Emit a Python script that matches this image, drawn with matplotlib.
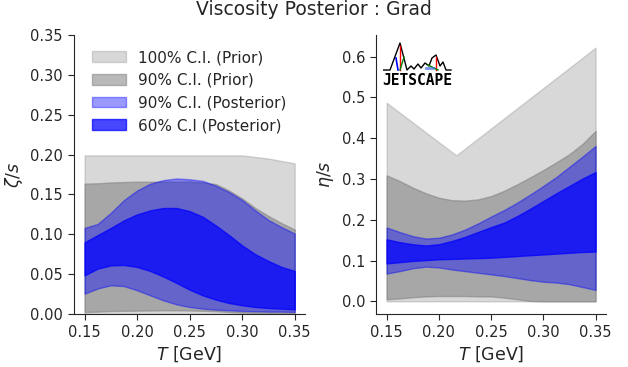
import numpy as np
import matplotlib
matplotlib.use("Agg")
import matplotlib.pyplot as plt

# temperature grid (GeV)
T = [0.15, 0.1625, 0.175, 0.1875, 0.2, 0.2125, 0.225, 0.2375, 0.25,
     0.2625, 0.275, 0.2875, 0.3, 0.3125, 0.325, 0.3375, 0.35]

# zeta/s bands
zeta_prior100_hi = [0.199, 0.199, 0.199, 0.199, 0.199, 0.199, 0.199, 0.199, 0.199,
                    0.199, 0.199, 0.199, 0.199, 0.197, 0.195, 0.192, 0.189]
zeta_prior100_lo = [0.0] * 17
zeta_prior90_hi = [0.1635, 0.164, 0.165, 0.1655, 0.166, 0.166, 0.166, 0.166, 0.166,
                   0.165, 0.163, 0.155, 0.145, 0.133, 0.123, 0.114, 0.106]
zeta_prior90_lo = [0.0025, 0.003, 0.0038, 0.004, 0.0042, 0.0044, 0.0046, 0.0046, 0.0044,
                   0.004, 0.0035, 0.0025, 0.0017, 0.0015, 0.0014, 0.0013, 0.0013]
zeta_post90_hi = [0.108, 0.113, 0.127, 0.143, 0.155, 0.1635, 0.168, 0.170, 0.169,
                  0.167, 0.161, 0.153, 0.143, 0.130, 0.118, 0.109, 0.101]
zeta_post90_lo = [0.0255, 0.032, 0.036, 0.035, 0.0297, 0.0234, 0.0171, 0.0121, 0.0088,
                  0.0067, 0.0054, 0.0046, 0.0038, 0.0034, 0.003, 0.003, 0.0025]
zeta_post60_hi = [0.090, 0.099, 0.108, 0.1175, 0.125, 0.130, 0.133, 0.133, 0.129,
                  0.122, 0.111, 0.099, 0.086, 0.075, 0.0665, 0.059, 0.054]
zeta_post60_lo = [0.0485, 0.057, 0.061, 0.0615, 0.059, 0.054, 0.047, 0.039, 0.0305,
                  0.0234, 0.018, 0.0138, 0.011, 0.0088, 0.0075, 0.0067, 0.0059]

# eta/s bands
T_kink = [0.15, 0.2167, 0.35]
eta_prior100_hi = [0.487, 0.358, 0.622]
eta_prior100_lo = [0.0, 0.0, 0.0]
eta_prior90_hi = [0.309, 0.295, 0.279, 0.265, 0.254, 0.248, 0.247, 0.250, 0.258,
                  0.271, 0.287, 0.304, 0.322, 0.341, 0.361, 0.386, 0.418]
eta_prior90_lo = [0.005, 0.007, 0.010, 0.012, 0.013, 0.013, 0.013, 0.012, 0.012,
                  0.009, 0.005, 0.001, 0.0, 0.0, 0.0, 0.0, 0.0]
eta_post90_hi = [0.181, 0.170, 0.160, 0.154, 0.156, 0.164, 0.176, 0.191, 0.208,
                 0.224, 0.242, 0.262, 0.283, 0.305, 0.330, 0.355, 0.381]
eta_post90_lo = [0.068, 0.074, 0.081, 0.085, 0.083, 0.078, 0.074, 0.070, 0.066,
                 0.062, 0.057, 0.052, 0.048, 0.046, 0.042, 0.035, 0.028]
eta_post60_hi = [0.152, 0.145, 0.140, 0.137, 0.140, 0.148, 0.158, 0.170, 0.182,
                 0.193, 0.209, 0.227, 0.246, 0.265, 0.283, 0.301, 0.317]
eta_post60_lo = [0.093, 0.096, 0.099, 0.101, 0.103, 0.104, 0.105, 0.106, 0.107,
                 0.109, 0.111, 0.113, 0.115, 0.117, 0.119, 0.121, 0.122]

labels = ["100% C.I. (Prior)", "90% C.I. (Prior)", "90% C.I. (Posterior)", "60% C.I (Posterior)"]

# logo outline (pixel-ish units inside the logo box)
logo_x = [0, 7, 17, 24, 28, 31, 35, 38, 42, 46, 49, 53, 57, 60, 63, 68]
logo_y = [16, 16, 43, 16, 20, 17, 22, 18, 23, 20, 28, 31, 20, 24, 16, 16]

plt.rcParams['font.family'] = ['DejaVu Sans']
plt.rcParams['text.color'] = '.15'
plt.rcParams['axes.labelcolor'] = '.15'
plt.rcParams['xtick.color'] = '.15'
plt.rcParams['ytick.color'] = '.15'
plt.rcParams['axes.edgecolor'] = '.15'

fig = plt.figure(figsize=(6.28, 3.67), dpi=100)
ax1 = fig.add_axes([0.118, 0.1444, 0.368, 0.7602])
ax2 = fig.add_axes([0.599, 0.1444, 0.366, 0.7602])


def draw_bands(ax, t100, p100, t, p90, q90, q60):
    ax.fill_between(t100, p100[0], p100[1], color='gray', alpha=0.3, lw=1, label=labels[0])
    ax.fill_between(t, p90[0], p90[1], color='gray', alpha=0.55, lw=1, label=labels[1])
    ax.fill_between(t, q90[0], q90[1], color='blue', alpha=0.4, lw=1, label=labels[2])
    ax.fill_between(t, q60[0], q60[1], color='blue', alpha=0.72, lw=1, label=labels[3])


draw_bands(ax1, T, (zeta_prior100_lo, zeta_prior100_hi), T,
           (zeta_prior90_lo, zeta_prior90_hi), (zeta_post90_lo, zeta_post90_hi),
           (zeta_post60_lo, zeta_post60_hi))
draw_bands(ax2, T_kink, (eta_prior100_lo, eta_prior100_hi), T,
           (eta_prior90_lo, eta_prior90_hi), (eta_post90_lo, eta_post90_hi),
           (eta_post60_lo, eta_post60_hi))

ax1.set_ylim(0, 0.35)
ax1.set_yticks(np.arange(0, 0.351, 0.05))
ax1.yaxis.set_major_formatter(matplotlib.ticker.FormatStrFormatter('%.2f'))
ax2.set_yticks(np.arange(0, 0.61, 0.1))

for ax in (ax1, ax2):
    ax.set_xticks([0.15, 0.2, 0.25, 0.3, 0.35])
    ax.xaxis.set_major_formatter(matplotlib.ticker.FormatStrFormatter('%.2f'))
    ax.spines['top'].set_visible(False)
    ax.spines['right'].set_visible(False)
    ax.tick_params(labelsize=10.5, length=4.5)
    ax.set_xlabel(r"$T$ [GeV]", fontsize=12.5, labelpad=3)

ax1.set_ylabel(r"$\zeta/s$", fontsize=12.5)
ax2.set_ylabel(r"$\eta/s$", fontsize=12.5)

ax1.legend(loc='upper left', frameon=False, fontsize=11, handlelength=2.2,
           bbox_to_anchor=(0.02, 0.995), labelspacing=0.5)

fig.suptitle("Viscosity Posterior : Grad", fontsize=13.5, y=1 - 15 / 367, va='baseline')

# JETSCAPE logo
axl = fig.add_axes([383 / 628, 1 - 86 / 367, 69 / 628, 46 / 367])
axl.set_xlim(0, 69)
axl.set_ylim(0, 46)
axl.axis('off')
axl.plot(logo_x, logo_y, color='k', lw=1)
axl.plot([17, 17], [40, 16], color='red', lw=1)
axl.plot([13, 15], [28, 16], color='blue', lw=1.2)
axl.plot([21, 17], [29, 16], color='green', lw=1)
axl.plot([53, 53], [29, 16], color='red', lw=1)
axl.plot([45, 55], [21, 16], color='green', lw=1)
axl.plot([43, 50], [18, 18], color='royalblue', lw=2, alpha=0.7)
axl.text(34.5, 5.5, "JETSCAPE", family='DejaVu Sans Mono', weight='bold',
         fontsize=10.5, ha='center', va='center', color='k')

fig.savefig("out.png", dpi=100)
